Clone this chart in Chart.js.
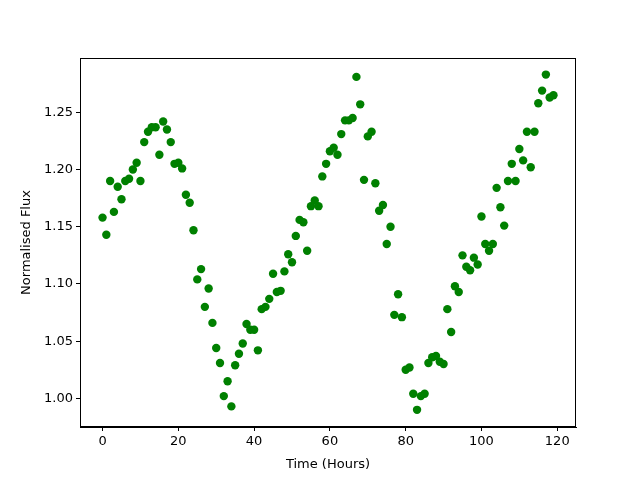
<!DOCTYPE html>
<html>
<head>
<meta charset="utf-8">
<script src="https://cdn.jsdelivr.net/npm/chart.js@4/dist/chart.umd.min.js"></script>
<style>
  html, body { margin: 0; padding: 0; background: #fff; }
  canvas { display: block; }
</style>
</head>
<body>
<canvas id="fluxChart" width="640" height="480"></canvas>
<script>
// Light curve - hourly samples
const hours = [];
for (let h = 0; h < 120; h++) hours.push(h);

const flux = [
    1.158, 1.143, 1.190, 1.163, 1.185, 1.174, 1.190, 1.192, 1.200, 1.206,
    1.190, 1.224, 1.233, 1.237, 1.237, 1.213, 1.242, 1.235, 1.224, 1.205,
    1.206, 1.201, 1.178, 1.171, 1.147, 1.104, 1.113, 1.080, 1.096, 1.066,
    1.044, 1.031, 1.002, 1.015, 0.993, 1.029, 1.039, 1.048, 1.065, 1.060,
    1.060, 1.042, 1.078, 1.080, 1.087, 1.109, 1.093, 1.094, 1.111, 1.126,
    1.119, 1.142, 1.156, 1.154, 1.129, 1.168, 1.173, 1.168, 1.194, 1.205,
    1.216, 1.219, 1.213, 1.231, 1.243, 1.243, 1.245, 1.281, 1.257, 1.191,
    1.229, 1.233, 1.188, 1.164, 1.169, 1.135, 1.150, 1.073, 1.091, 1.071,
    1.025, 1.027, 1.004, 0.990, 1.002, 1.004, 1.031, 1.036, 1.037, 1.032,
    1.030, 1.078, 1.058, 1.098, 1.093, 1.125, 1.115, 1.112, 1.123, 1.117,
    1.159, 1.135, 1.129, 1.135, 1.184, 1.167, 1.151, 1.190, 1.205, 1.190,
    1.218, 1.208, 1.233, 1.202, 1.233, 1.258, 1.269, 1.283, 1.263, 1.265
];

const xTicks = [0, 20, 40, 60, 80, 100, 120];
const yTicks = [1.00, 1.05, 1.10, 1.15, 1.20, 1.25];

const points = hours.map((h, i) => ({ x: h, y: flux[i] }));

// draws the full box around the plot area like matplotlib spines
const frameBox = {
    id: 'frameBox',
    afterDraw(chart) {
        const a = chart.chartArea;
        const ctx = chart.ctx;
        ctx.save();
        ctx.strokeStyle = '#000';
        ctx.lineWidth = 1;
        ctx.strokeRect(a.left + 0.5, a.top + 0.5, a.right - a.left - 1, a.bottom - a.top - 1);
        ctx.restore();
    }
};

Chart.defaults.font.family = "'DejaVu Sans', sans-serif";
Chart.defaults.color = '#000';

new Chart(document.getElementById('fluxChart').getContext('2d'), {
    type: 'scatter',
    data: {
        datasets: [{
            data: points,
            backgroundColor: '#008000',
            borderColor: '#008000',
            pointRadius: 4.2,
            pointHoverRadius: 4.2,
            borderWidth: 0
        }]
    },
    options: {
        responsive: false,
        animation: false,
        layout: { padding: { left: 15, right: 64, top: 58, bottom: 4 } },
        plugins: {
            legend: { display: false },
            tooltip: { enabled: false }
        },
        scales: {
            x: {
                type: 'linear',
                min: -5.95,
                max: 124.95,
                afterBuildTicks: axis => { axis.ticks = xTicks.map(v => ({ value: v })); },
                afterFit: axis => { axis.height = 49; },
                grid: { drawOnChartArea: false, drawTicks: true, tickLength: 4, color: '#000' },
                border: { color: '#000' },
                ticks: { font: { size: 13 }, padding: 3, maxRotation: 0 },
                title: { display: true, text: 'Time (Hours)', font: { size: 13 }, padding: { top: 2 } }
            },
            y: {
                type: 'linear',
                min: 0.975,
                max: 1.2975,
                afterBuildTicks: axis => { axis.ticks = yTicks.map(v => ({ value: v })); },
                afterFit: axis => { axis.width = 65; },
                grid: { drawOnChartArea: false, drawTicks: true, tickLength: 4, color: '#000' },
                border: { color: '#000' },
                ticks: { font: { size: 13 }, padding: 3, callback: v => v.toFixed(2) },
                title: { display: true, text: 'Normalised Flux', font: { size: 13 }, padding: { bottom: 4 } }
            }
        }
    },
    plugins: [frameBox]
});
</script>
</body>
</html>
